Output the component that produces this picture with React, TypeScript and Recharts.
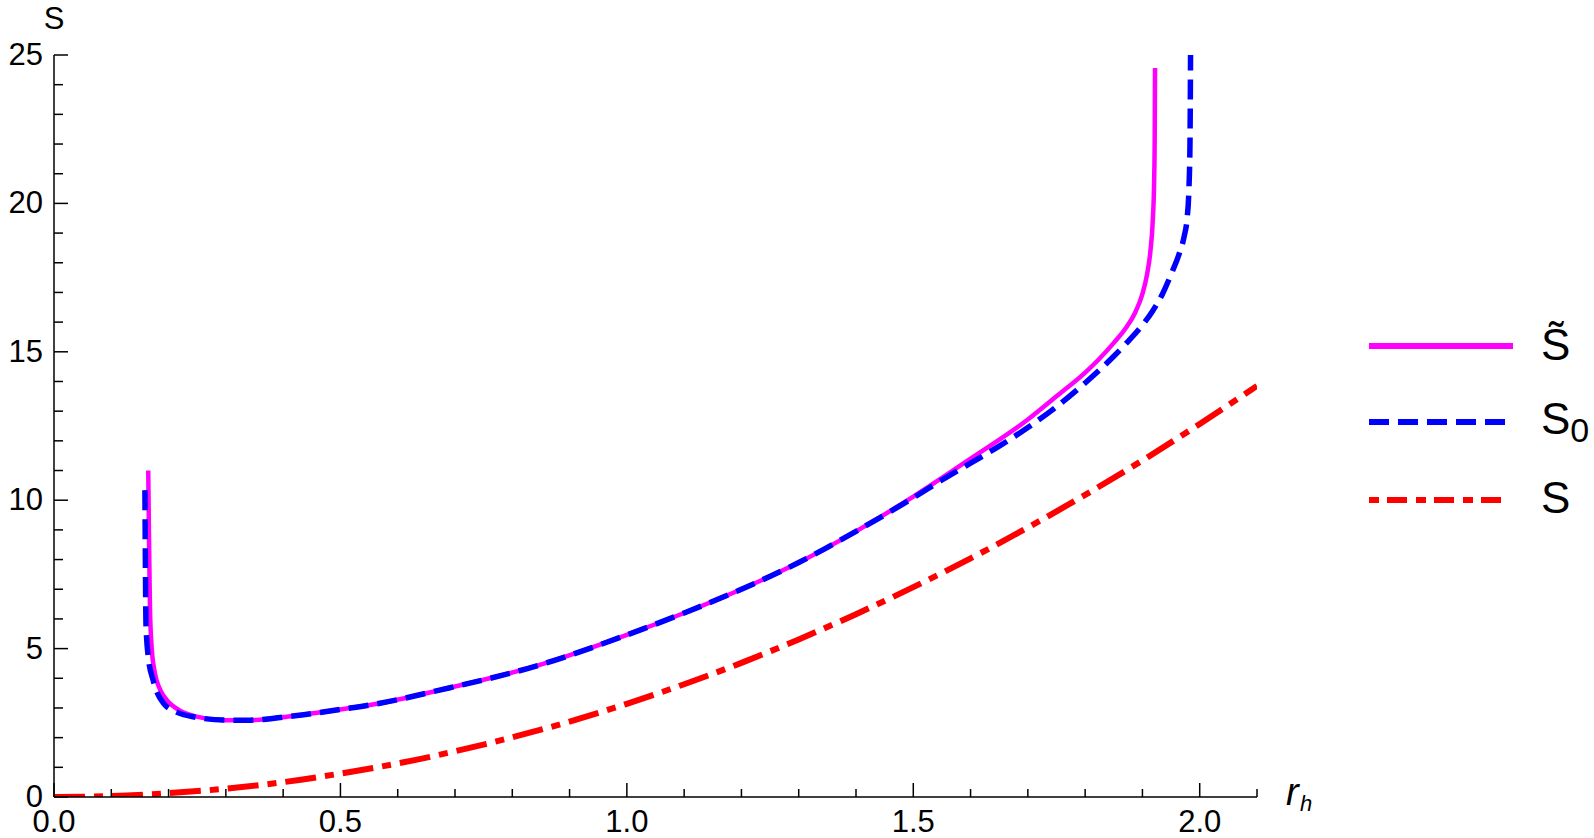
import React from "react";
import { LineChart, Line, XAxis, YAxis } from "recharts";

// S~ (solid magenta)
const rTilde = [
  0.1645, 0.166, 0.1675, 0.1704, 0.175, 0.179, 0.187, 0.1966, 0.2198, 0.249, 0.295, 0.342, 0.417, 0.493,
  0.569, 0.673, 0.848, 1.0, 1.1, 1.2, 1.3, 1.4, 1.5, 1.6, 1.7, 1.75, 1.8, 1.824, 1.85, 1.871, 1.888, 1.9,
  1.908, 1.914, 1.918, 1.9205, 1.9215, 1.922,
];
const sTilde = [
  11.0, 8.5, 6.4, 5.06, 4.3, 3.94, 3.55, 3.27, 2.91, 2.71, 2.59, 2.59, 2.73, 2.93,
  3.16, 3.6, 4.45, 5.46, 6.2, 7.0, 7.9, 8.95, 10.12, 11.4, 12.72, 13.5, 14.3, 14.75, 15.3, 15.8, 16.35, 16.95,
  17.6, 18.4, 19.4, 20.8, 22.4, 24.56,
];

// S0 (dashed blue)
const rZero = [
  0.1587, 0.1595, 0.1605, 0.1645, 0.173, 0.191, 0.215, 0.25, 0.3, 0.342, 0.417, 0.493,
  0.569, 0.673, 0.848, 1.0, 1.1, 1.2, 1.3, 1.4, 1.5, 1.55, 1.6, 1.65, 1.7, 1.75, 1.8, 1.85, 1.871, 1.9,
  1.917, 1.935, 1.952, 1.965, 1.973, 1.978, 1.981, 1.983, 1.984,
];
const sZero = [
  10.34, 8.0, 5.86, 4.73, 3.94, 3.16, 2.85, 2.68, 2.59, 2.59, 2.73, 2.93,
  3.16, 3.6, 4.45, 5.46, 6.2, 7.0, 7.9, 8.95, 10.08, 10.68, 11.25, 11.82, 12.45, 13.15, 13.95, 14.85, 15.27, 15.9,
  16.35, 16.95, 17.7, 18.35, 18.9, 19.5, 20.4, 22.0, 25.0,
];

// S (dash-dot red)
const rPlain = [
  0, 0.1, 0.2, 0.3, 0.4, 0.5, 0.6, 0.7, 0.8, 0.9, 1.0, 1.1, 1.2, 1.3, 1.4, 1.5, 1.6, 1.7, 1.8, 1.9, 2.0, 2.1,
];
const sPlain = [
  0, 0.03, 0.13, 0.28, 0.5, 0.79, 1.13, 1.54, 2.01, 2.54, 3.14, 3.8, 4.52, 5.31, 6.16, 7.07, 8.04, 9.08,
  10.18, 11.34, 12.57, 13.85,
];

const xTicks = [
  0, 0.1, 0.2, 0.3, 0.4, 0.5, 0.6, 0.7, 0.8, 0.9, 1.0, 1.1, 1.2, 1.3, 1.4, 1.5, 1.6, 1.7, 1.8, 1.9, 2.0, 2.1,
];
const yTicks = [
  0, 1, 2, 3, 4, 5, 6, 7, 8, 9, 10, 11, 12, 13, 14, 15, 16, 17, 18, 19, 20, 21, 22, 23, 24, 25,
];

const FONT = "'Liberation Sans', Arial, sans-serif";

const toPoints = (rs: number[], ss: number[]) => rs.map((r, i) => ({ r, s: ss[i] }));

function XTick(props: any) {
  const { x, y, payload } = props;
  const v = payload.value as number;
  const major = Math.abs(v * 2 - Math.round(v * 2)) < 1e-6;
  return (
    <g>
      <line x1={x} x2={x} y1={y} y2={y - (major ? 14 : 8)} stroke="#000" strokeWidth={1.5} />
      {major && (
        <text x={x} y={y + 35} textAnchor="middle" fontSize={31} fontFamily={FONT} fill="#000">
          {v.toFixed(1)}
        </text>
      )}
    </g>
  );
}

function YTick(props: any) {
  const { x, y, payload } = props;
  const v = payload.value as number;
  const major = v % 5 === 0;
  return (
    <g>
      <line x1={x} x2={x + (major ? 14 : 9)} y1={y} y2={y} stroke="#000" strokeWidth={1.5} />
      {major && (
        <text x={x - 11} y={y + 10} textAnchor="end" fontSize={31} fontFamily={FONT} fill="#000">
          {v}
        </text>
      )}
    </g>
  );
}

export default function App() {
  return (
    <div style={{ position: "absolute", left: 0, top: 0, width: 1594, height: 838, background: "#fff" }}>
      <LineChart width={1594} height={838} margin={{ top: 55, right: 337, bottom: 0, left: 0 }}>
        <XAxis
          type="number"
          dataKey="r"
          domain={[0, 2.1]}
          ticks={xTicks}
          interval={0}
          height={41}
          tickSize={0}
          tickMargin={0}
          tickLine={false}
          axisLine={{ stroke: "#000", strokeWidth: 1.5 }}
          tick={XTick}
          allowDataOverflow
        />
        <YAxis
          type="number"
          dataKey="s"
          domain={[0, 25]}
          ticks={yTicks}
          interval={0}
          width={54}
          tickSize={0}
          tickMargin={0}
          tickLine={false}
          axisLine={{ stroke: "#000", strokeWidth: 1.5 }}
          tick={YTick}
          allowDataOverflow
        />
        <Line
          data={toPoints(rTilde, sTilde)}
          dataKey="s"
          type="monotone"
          stroke="#ff00ff"
          strokeWidth={4.5}
          dot={false}
          isAnimationActive={false}
        />
        <Line
          data={toPoints(rZero, sZero)}
          dataKey="s"
          type="monotone"
          stroke="#0000ff"
          strokeWidth={5.5}
          strokeDasharray="20 9"
          dot={false}
          isAnimationActive={false}
        />
        <Line
          data={toPoints(rPlain, sPlain)}
          dataKey="s"
          type="monotone"
          stroke="#ff0000"
          strokeWidth={6}
          strokeDasharray="31 9 9 9"
          dot={false}
          isAnimationActive={false}
        />

        {/* axis labels */}
        <text x={54} y={29} textAnchor="middle" fontSize={31} fontFamily={FONT} fill="#000">S</text>
        <text x={1286} y={805} fontSize={38} fontStyle="italic" fontFamily={FONT} fill="#000">r</text>
        <text x={1300} y={811} fontSize={22} fontStyle="italic" fontFamily={FONT} fill="#000">h</text>

        {/* legend */}
        <g fontFamily={FONT} fill="#000">
          <line x1={1369} x2={1513} y1={346} y2={346} stroke="#ff00ff" strokeWidth={6} />
          <text x={1541} y={360} fontSize={44}>{"S\u0303"}</text>
          <line x1={1369} x2={1505} y1={422} y2={422} stroke="#0000ff" strokeWidth={6} strokeDasharray="20 9" />
          <text x={1541} y={434} fontSize={44}>
            S<tspan fontSize={34} dy={8}>0</tspan>
          </text>
          <line x1={1369} x2={1502} y1={500} y2={500} stroke="#ff0000" strokeWidth={6} strokeDasharray="10 8 20 9" />
          <text x={1541} y={513} fontSize={44}>S</text>
        </g>
      </LineChart>
    </div>
  );
}
